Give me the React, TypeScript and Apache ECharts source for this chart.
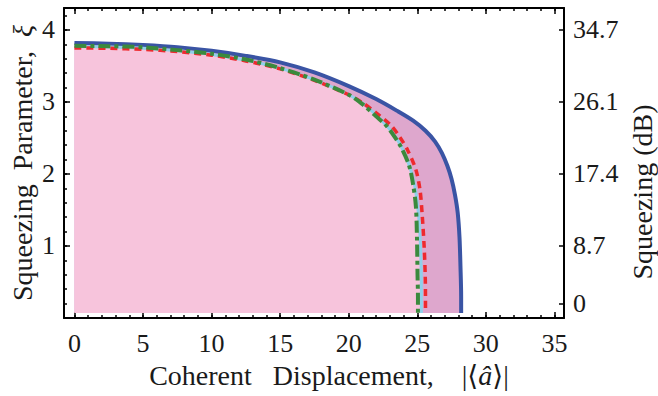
import React, { useEffect, useRef } from "react";
import * as echarts from "echarts";

// Curve data (x = |<a>|, y = squeezing parameter xi)
const blueX = [0, 2.5, 5, 7.5, 10, 12.5, 15, 17.5, 20, 22, 23.5, 24.7, 25.6, 26.3, 26.8, 27.2, 27.5, 27.75, 27.95, 28.08, 28.15, 28.2, 28.2];
const blueY = [3.82, 3.81, 3.79, 3.76, 3.71, 3.64, 3.55, 3.41, 3.22, 3.04, 2.88, 2.74, 2.6, 2.45, 2.29, 2.11, 1.93, 1.71, 1.46, 1.12, 0.72, 0.3, 0.07];

const lightBlueX = [0, 2.5, 5, 7.5, 10, 12.5, 15, 17.5, 20, 21, 22, 22.9, 23.6, 24.1, 24.5, 24.8, 25.0, 25.15, 25.25, 25.3, 25.3];
const lightBlueY = [3.77, 3.765, 3.745, 3.71, 3.66, 3.58, 3.47, 3.31, 3.1, 2.98, 2.82, 2.64, 2.46, 2.27, 2.07, 1.85, 1.6, 1.3, 0.9, 0.45, 0.07];

const redX = [0, 2.5, 5, 7.5, 10, 12.5, 15, 17.5, 20, 21, 22, 23.05, 23.7, 24.3, 24.9, 25.2, 25.35, 25.5, 25.58, 25.6, 25.6];
const redY = [3.75, 3.745, 3.73, 3.7, 3.65, 3.57, 3.46, 3.3, 3.1, 2.99, 2.85, 2.68, 2.52, 2.33, 2.06, 1.78, 1.46, 1.0, 0.6, 0.3, 0.07];

const greenX = [0, 2.5, 5, 7.5, 10, 12.5, 15, 17.5, 20, 21, 22, 22.7, 23.3, 23.8, 24.4, 24.7, 24.9, 24.98, 25.02, 25.05, 25.05];
const greenY = [3.78, 3.775, 3.76, 3.72, 3.67, 3.59, 3.47, 3.31, 3.1, 2.97, 2.8, 2.68, 2.53, 2.38, 2.12, 1.85, 1.55, 1.1, 0.6, 0.3, 0.07];

const xMajorTicks = [0, 5, 10, 15, 20, 25, 30, 35];
const xMinorTicks = Array.from({ length: 36 }, (_, i) => i);
const leftTickLabels = [1, 2, 3, 4];
const leftMajorTicks = [0, 1, 2, 3, 4];
const leftMinorTicks = Array.from({ length: 22 }, (_, i) => +(i * 0.2).toFixed(1));
const rightTickValues = [0.2, 1, 2, 3, 4];
const rightTickLabels = ["0", "8.7", "17.4", "26.1", "34.7"];

const X_MIN = -0.76;
const X_MAX = 35.7;
const Y_MIN = 0;
const Y_MAX = 4.305;
const FILL_BASE = 0.07;

const FONT = "'Liberation Serif', 'DejaVu Serif', serif";
const TXT = "#1a1a1a";
const TICK_FS = 26;
const NAME_FS = 28;

const zip = (xs: number[], ys: number[]) => xs.map((x, i) => [x, ys[i]]);

export default function App() {
  const ref = useRef<HTMLDivElement>(null);
  useEffect(() => {
    if (!ref.current) return;
    const chart = echarts.init(ref.current, undefined, { renderer: "svg" });
    const axisLine = { show: true, onZero: false, lineStyle: { color: "#000", width: 2 } };
    const noLine = { show: false, onZero: false };
    const tickStyle = { color: "#000", width: 1.5 };
    const baseX = {
      type: "value" as const,
      min: X_MIN,
      max: X_MAX,
      splitLine: { show: false },
    };
    const baseY = {
      type: "value" as const,
      min: Y_MIN,
      max: Y_MAX,
      splitLine: { show: false },
    };
    chart.setOption({
      animation: false,
      grid: { left: 62, right: 94, top: 8, bottom: 78 },
      xAxis: [
        {
          ...baseX,
          position: "bottom",
          axisLine,
          axisTick: { show: true, inside: true, length: 6, customValues: xMajorTicks, lineStyle: tickStyle },
          axisLabel: { customValues: xMajorTicks, fontFamily: FONT, fontSize: TICK_FS, color: TXT, margin: 12 },
          name: "Coherent   Displacement,    |\u27E8{i|\u00E2}\u27E9|",
          nameLocation: "middle",
          nameGap: 43,
          nameTextStyle: {
            fontFamily: FONT,
            fontSize: NAME_FS,
            color: TXT,
            padding: [0, 0, 0, 30],
            rich: { i: { fontFamily: FONT, fontStyle: "italic", fontSize: NAME_FS, color: TXT } },
          },
        },
        {
          ...baseX,
          position: "bottom",
          axisLine: noLine,
          axisTick: { show: true, inside: true, length: 3, customValues: xMinorTicks, lineStyle: tickStyle },
          axisLabel: { show: false },
        },
        {
          ...baseX,
          position: "top",
          axisLine,
          axisTick: { show: true, inside: true, length: 6, customValues: xMajorTicks, lineStyle: tickStyle },
          axisLabel: { show: false },
        },
        {
          ...baseX,
          position: "top",
          axisLine: noLine,
          axisTick: { show: true, inside: true, length: 3, customValues: xMinorTicks, lineStyle: tickStyle },
          axisLabel: { show: false },
        },
      ],
      yAxis: [
        {
          ...baseY,
          position: "left",
          axisLine,
          axisTick: { show: true, inside: true, length: 6, customValues: leftMajorTicks, lineStyle: tickStyle },
          axisLabel: { customValues: leftTickLabels, fontFamily: FONT, fontSize: TICK_FS, color: TXT, margin: 9 },
          name: "Squeezing  Parameter,  {i|\u03BE}",
          nameLocation: "middle",
          nameGap: 28,
          nameMoveOverlap: false,
          nameTextStyle: {
            fontFamily: FONT,
            fontSize: NAME_FS,
            color: TXT,
            rich: { i: { fontFamily: FONT, fontStyle: "italic", fontSize: NAME_FS, color: TXT } },
          },
        },
        {
          ...baseY,
          position: "left",
          axisLine: noLine,
          axisTick: { show: true, inside: true, length: 3, customValues: leftMinorTicks, lineStyle: tickStyle },
          axisLabel: { show: false },
        },
        {
          ...baseY,
          position: "right",
          axisLine,
          axisTick: { show: true, inside: true, length: 5, customValues: rightTickValues, lineStyle: tickStyle },
          axisLabel: {
            customValues: rightTickValues,
            fontFamily: FONT,
            fontSize: TICK_FS,
            color: TXT,
            margin: 9,
            formatter: (v: number) => {
              let best = 0;
              rightTickValues.forEach((t, i) => {
                if (Math.abs(t - v) < Math.abs(rightTickValues[best] - v)) best = i;
              });
              return rightTickLabels[best];
            },
          },
        },
      ],
      graphic: [
        {
          type: "text",
          x: 642,
          y: 192,
          rotation: Math.PI / 2,
          style: {
            text: "Squeezing (dB)",
            fontFamily: FONT,
            fontSize: NAME_FS,
            fill: TXT,
            align: "center",
            verticalAlign: "middle",
          },
        },
      ],
      series: [
        {
          type: "line",
          data: zip(blueX, blueY),
          xAxisIndex: 0,
          yAxisIndex: 0,
          symbol: "none",
          smooth: 0.3,
          lineStyle: { color: "#3a54a4", width: 4 },
          areaStyle: { color: "#dea7cd", opacity: 1, origin: FILL_BASE },
          z: 2,
        },
        {
          type: "line",
          data: zip(lightBlueX, lightBlueY),
          xAxisIndex: 0,
          yAxisIndex: 0,
          symbol: "none",
          smooth: 0.3,
          lineStyle: { color: "#8fd0ea", width: 3 },
          areaStyle: { color: "#f7c4dc", opacity: 1, origin: FILL_BASE },
          z: 3,
        },
        {
          type: "line",
          data: zip(redX, redY),
          xAxisIndex: 0,
          yAxisIndex: 0,
          symbol: "none",
          smooth: 0.3,
          lineStyle: { color: "#ee2a2e", width: 3.5, type: [7, 5] },
          z: 4,
        },
        {
          type: "line",
          data: zip(greenX, greenY),
          xAxisIndex: 0,
          yAxisIndex: 0,
          symbol: "none",
          smooth: 0.3,
          lineStyle: { color: "#3b8a3d", width: 4, type: [12, 4, 4, 4] },
          z: 5,
        },
      ],
    });
    return () => chart.dispose();
  }, []);
  return <div ref={ref} style={{ width: 658, height: 396, position: "absolute", left: 0, top: 0 }} />;
}
